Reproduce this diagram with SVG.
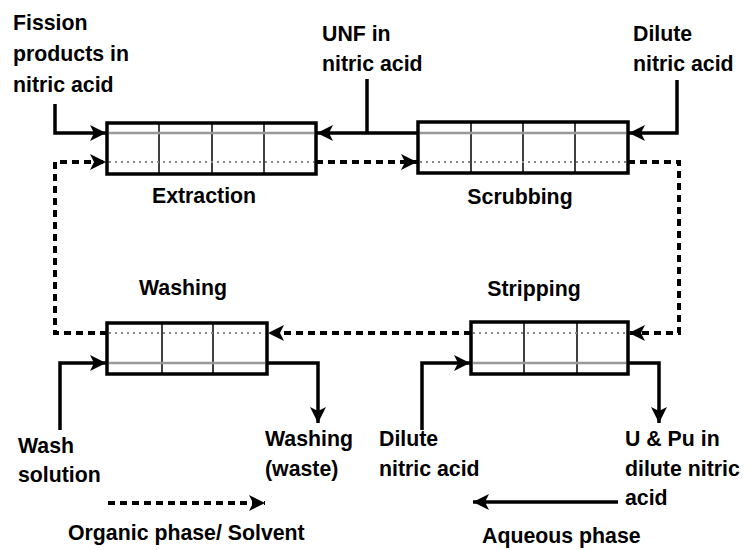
<svg xmlns="http://www.w3.org/2000/svg" width="748" height="550" viewBox="0 0 748 550">
<style>
  text { font-family: "Liberation Sans", Arial, sans-serif; font-weight: bold; font-size: 21.3px; fill: #000; }
  .box { fill: #fff; stroke: #000; stroke-width: 3.5; }
  .div { stroke: #000; stroke-width: 1.5; }
  .aq-in { stroke: #999; stroke-width: 2.5; fill: none; }
  .org-in { stroke: #888; stroke-width: 2; stroke-dasharray: 2 4; fill: none; }
  .solid { stroke: #000; stroke-width: 3.5; fill: none; }
  .dash { stroke: #000; stroke-width: 4; stroke-dasharray: 7 5; fill: none; }
  .mid { text-anchor: middle; }
</style>
<defs>
  <marker id="ah" markerUnits="userSpaceOnUse" markerWidth="18" markerHeight="16" refX="16" refY="8" orient="auto">
    <path d="M0,0 L16,8 L0,16 L4,8 Z" fill="#000"/>
  </marker>
</defs>
<rect width="748" height="550" fill="#fff"/>

<g id="connectors">
  <!-- aqueous (solid) -->
  <polyline class="solid" points="55,104 55,133 106,133" marker-end="url(#ah)"/>
  <polyline class="solid" points="418,133 317,133" marker-end="url(#ah)"/>
  <polyline class="solid" points="367,79 367,133"/>
  <polyline class="solid" points="677,80 677,133 629,133" marker-end="url(#ah)"/>
  <polyline class="solid" points="60,430 60,363 106,363" marker-end="url(#ah)"/>
  <polyline class="solid" points="267,363 318,363 318,423" marker-end="url(#ah)"/>
  <polyline class="solid" points="422,430 422,363 470,363" marker-end="url(#ah)"/>
  <polyline class="solid" points="628,363 659,363 659,423" marker-end="url(#ah)"/>
  <!-- organic (dashed) -->
  <polyline class="dash" points="107,333 55,333 55,162 106,162" marker-end="url(#ah)"/>
  <polyline class="dash" points="316,162 417,162" marker-end="url(#ah)"/>
  <polyline class="dash" points="628,162 679,162 679,333 629,333" marker-end="url(#ah)"/>
  <polyline class="dash" points="471,333 268,333" marker-end="url(#ah)"/>
  <!-- legend -->
  <line class="dash" x1="108" y1="503" x2="265" y2="503" stroke-dasharray="5 4" marker-end="url(#ah)"/>
  <line class="solid" x1="618" y1="502" x2="473" y2="502" marker-end="url(#ah)"/>
</g>

<g id="extraction">
  <rect class="box" x="107" y="123" width="209" height="51"/>
  <line class="div" x1="159" y1="123" x2="159" y2="174"/>
  <line class="div" x1="212" y1="123" x2="212" y2="174"/>
  <line class="div" x1="264" y1="123" x2="264" y2="174"/>
  <line class="aq-in" x1="109" y1="133" x2="314" y2="133"/>
  <line class="org-in" x1="109" y1="162" x2="314" y2="162"/>
  <text class="mid" x="204" y="203">Extraction</text>
</g>

<g id="scrubbing">
  <rect class="box" x="418" y="122" width="210" height="51"/>
  <line class="div" x1="471" y1="122" x2="471" y2="173"/>
  <line class="div" x1="523" y1="122" x2="523" y2="173"/>
  <line class="div" x1="575" y1="122" x2="575" y2="173"/>
  <line class="aq-in" x1="420" y1="133" x2="626" y2="133"/>
  <line class="org-in" x1="420" y1="162" x2="626" y2="162"/>
  <text class="mid" x="520" y="204">Scrubbing</text>
</g>

<g id="washing">
  <rect class="box" x="107" y="323" width="160" height="51"/>
  <line class="div" x1="162" y1="323" x2="162" y2="374"/>
  <line class="div" x1="213" y1="323" x2="213" y2="374"/>
  <line class="org-in" x1="109" y1="333" x2="265" y2="333"/>
  <line class="aq-in" x1="109" y1="363" x2="265" y2="363"/>
  <text class="mid" x="183" y="295">Washing</text>
</g>

<g id="stripping">
  <rect class="box" x="471" y="322" width="157" height="52"/>
  <line class="div" x1="524" y1="322" x2="524" y2="374"/>
  <line class="div" x1="577" y1="322" x2="577" y2="374"/>
  <line class="org-in" x1="473" y1="333" x2="626" y2="333"/>
  <line class="aq-in" x1="473" y1="363" x2="626" y2="363"/>
  <text class="mid" x="534" y="296">Stripping</text>
</g>

<g id="feed-fission">
  <text x="13" y="30">Fission</text>
  <text x="13" y="61">products in</text>
  <text x="13" y="92">nitric acid</text>
</g>
<g id="feed-unf">
  <text x="322" y="41">UNF in</text>
  <text x="322" y="71">nitric acid</text>
</g>
<g id="feed-dilute-top">
  <text x="633" y="41">Dilute</text>
  <text x="633" y="71">nitric acid</text>
</g>
<g id="wash-solution">
  <text x="18" y="453">Wash</text>
  <text x="18" y="482">solution</text>
</g>
<g id="washing-waste">
  <text x="265" y="446">Washing</text>
  <text x="265" y="476">(waste)</text>
</g>
<g id="dilute-bottom">
  <text x="379" y="446">Dilute</text>
  <text x="379" y="476">nitric acid</text>
</g>
<g id="product">
  <text x="625" y="446">U &amp; Pu in</text>
  <text x="625" y="476">dilute nitric</text>
  <text x="625" y="505">acid</text>
</g>
<g id="legend">
  <text x="68" y="540">Organic phase/ Solvent</text>
  <text x="482" y="543">Aqueous phase</text>
</g>
</svg>
